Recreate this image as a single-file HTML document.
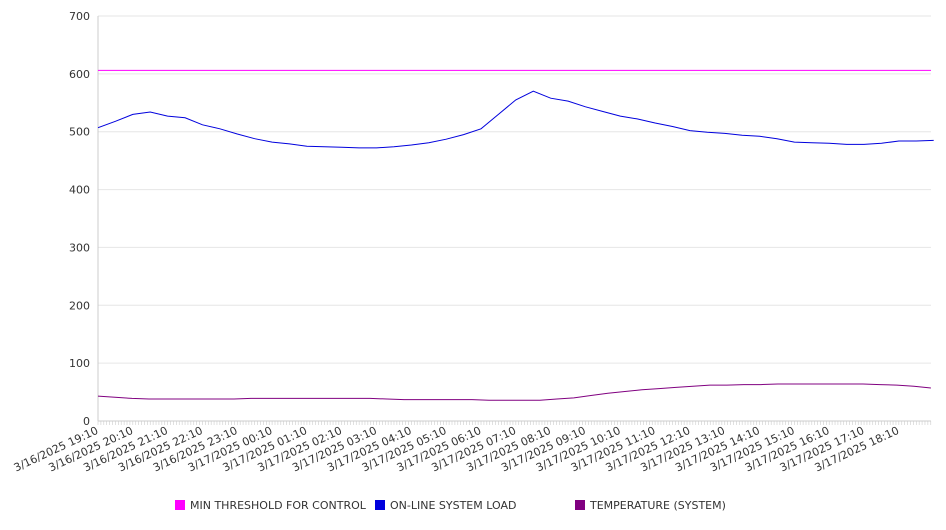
<!DOCTYPE html>
<html><head><meta charset="utf-8"><style>
body{margin:0;background:#fff;font-family:"DejaVu Sans","Liberation Sans",sans-serif;}
svg text{font-family:"DejaVu Sans","Liberation Sans",sans-serif;fill:#333;}
</style></head><body>
<svg id="chart" width="946" height="526"></svg>
<script>
const xLabels=["3/16/2025 19:10","3/16/2025 20:10","3/16/2025 21:10","3/16/2025 22:10","3/16/2025 23:10","3/17/2025 00:10","3/17/2025 01:10","3/17/2025 02:10","3/17/2025 03:10","3/17/2025 04:10","3/17/2025 05:10","3/17/2025 06:10","3/17/2025 07:10","3/17/2025 08:10","3/17/2025 09:10","3/17/2025 10:10","3/17/2025 11:10","3/17/2025 12:10","3/17/2025 13:10","3/17/2025 14:10","3/17/2025 15:10","3/17/2025 16:10","3/17/2025 17:10","3/17/2025 18:10"];
const yTicks=[0,100,200,300,400,500,600,700];
// half-hour samples starting 19:10
const loadValues=[507,518,530,534,527,524,512,505,496,488,482,479,475,474,473,472,472,474,477,481,487,495,505,530,555,570,558,553,543,535,527,522,515,509,502,499,497,494,492,488,482,481,480,478,478,480,484,484,485];
const tempValues=[43,41,39,38,38,38,38,38,38,39,39,39,39,39,39,39,39,38,37,37,37,37,37,36,36,36,36,38,40,44,48,51,54,56,58,60,62,62,63,63,64,64,64,64,64,64,63,62,60,57];
const thresholdValue=606;
const series=[{name:"MIN THRESHOLD FOR CONTROL",color:"#ff00ff"},{name:"ON-LINE SYSTEM LOAD",color:"#0000dd"},{name:"TEMPERATURE (SYSTEM)",color:"#800080"}];
const svg=document.getElementById('chart');const NS="http://www.w3.org/2000/svg";
const X0=98,X1=931,Y0=421,Y1=16,HR=34.82;
const xs=h=>X0+h*HR; const ys=v=>Y0-(v/700)*(Y0-Y1);
function mk(t,a,p){const e=document.createElementNS(NS,t);for(const k in a)e.setAttribute(k,a[k]);(p||svg).appendChild(e);return e;}
yTicks.forEach(v=>{
 if(v>0){const g=mk('line',{x1:X0,x2:X1,y1:ys(v),y2:ys(v),stroke:'#e6e6e6'});
 
 }
 const t=mk('text',{x:90,y:ys(v)+4,'text-anchor':'end','font-size':11});t.textContent=v;
 
 
});
const ax=mk('line',{x1:X0,x2:X0,y1:Y1,y2:Y0,stroke:'#ccc'});


const bx=mk('line',{x1:X0,x2:X1,y1:Y0,y2:Y0,stroke:'#ccc'});


for(let m=0;m*5/60*HR<=X1-X0;m++){const x=X0+m*5/60*HR;const tk=mk('line',{x1:x,x2:x,y1:Y0,y2:Y0+4,stroke:'#ccc','stroke-width':0.6});

}
xLabels.forEach((l,i)=>{const x=xs(i)+1;const t=mk('text',{x:x,y:Y0+12,'text-anchor':'end','font-size':11,transform:`rotate(-25 ${x} ${Y0+12})`});t.textContent=l;

});
function line(vals,step,color,name){const pts=vals.map((v,i)=>xs(i*step).toFixed(1)+','+ys(v).toFixed(1)).join(' ');const p=mk('polyline',{points:pts,fill:'none',stroke:color,'stroke-width':1});

}
const th=mk('line',{x1:X0,x2:X1,y1:ys(thresholdValue),y2:ys(thresholdValue),stroke:series[0].color,'stroke-width':1});


line(loadValues,0.5,series[1].color,'load-line');
line(tempValues,0.5*(23.92/24.5),series[2].color,'temperature-line');
const lx=[175,375,575];
series.forEach((s,i)=>{const g=mk('g',{});

mk('rect',{x:lx[i],y:500,width:10,height:10,fill:s.color},g);const t=mk('text',{x:lx[i]+15,y:509,'font-size':11},g);t.textContent=s.name;});
</script>
</body></html>
